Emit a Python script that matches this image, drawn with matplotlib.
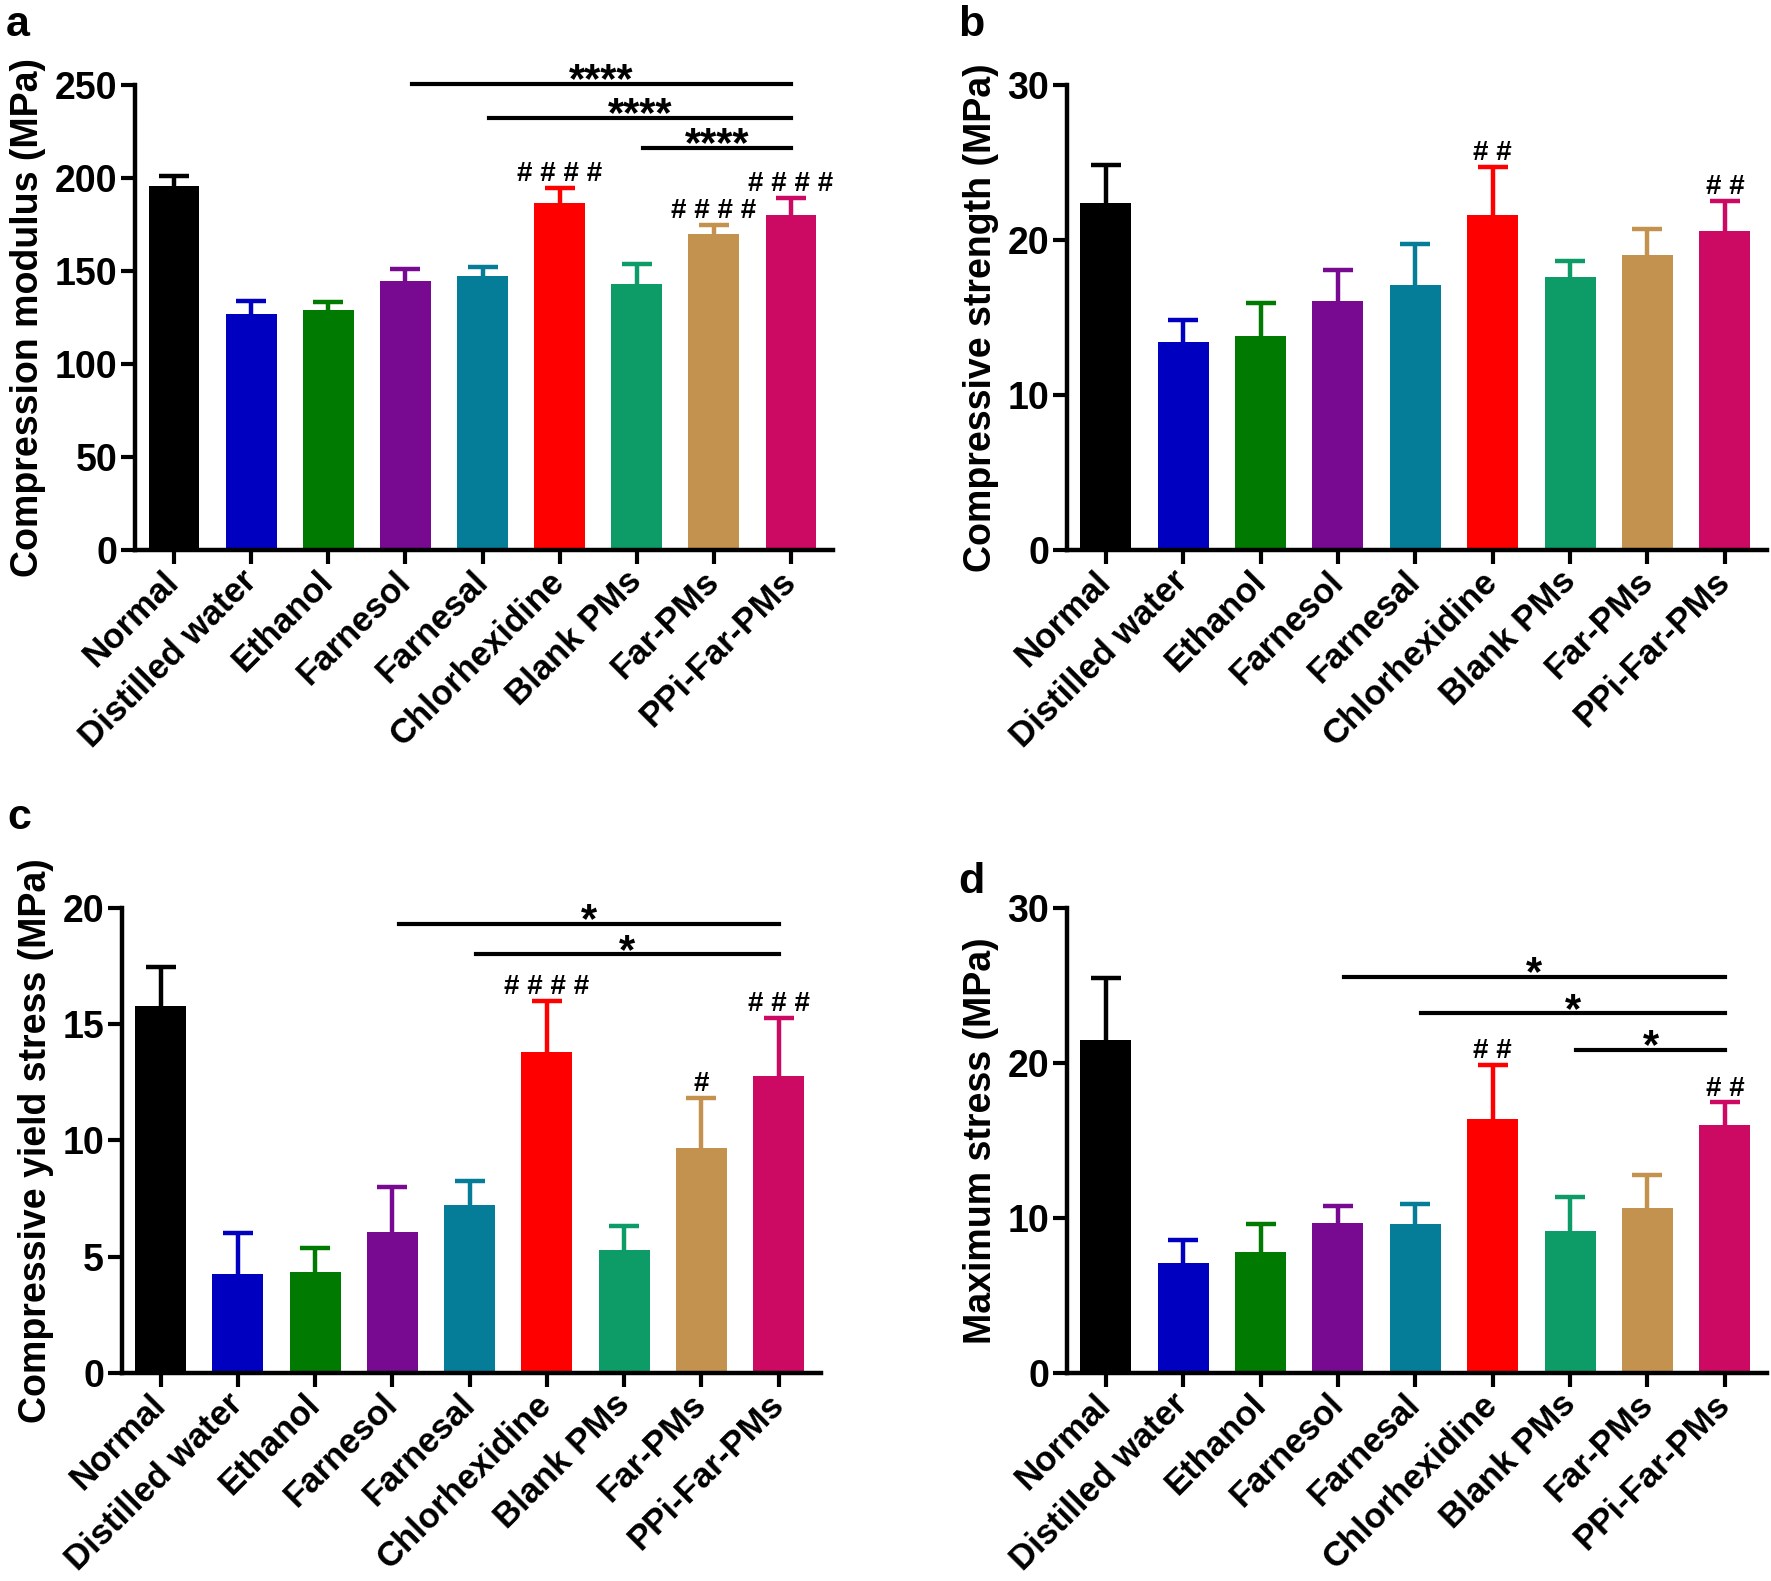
import numpy as np
import matplotlib
matplotlib.use("Agg")
import matplotlib.pyplot as plt

plt.rcParams['font.family'] = ['Liberation Sans', 'DejaVu Sans']
plt.rcParams['font.weight'] = 'bold'

groups = ['Normal', 'Distilled water', 'Ethanol', 'Farnesol', 'Farnesal',
          'Chlorhexidine', 'Blank PMs', 'Far-PMs', 'PPi-Far-PMs']
colors = ['#000000', '#0000c0', '#007a00', '#770a90', '#067d98',
          '#ff0000', '#0d9b68', '#c4924f', '#cc0a64']

# panel a - compression modulus
mod_mean = [195.5, 127, 129, 144.5, 147.5, 186.5, 143, 170, 180]
mod_err = [5.5, 7, 4, 6.5, 4.5, 8, 10.5, 4.5, 9]
mod_sig = [(3, 8, 250.3, '****'), (4, 8, 232, '****'), (6, 8, 216, '****')]
mod_hash = {5: '####', 7: '####', 8: '####'}

# panel b - compressive strength
str_mean = [22.4, 13.4, 13.8, 16.05, 17.1, 21.6, 17.6, 19.0, 20.6]
str_err = [2.4, 1.4, 2.1, 2.0, 2.6, 3.1, 1.05, 1.7, 1.9]
str_sig = []
str_hash = {5: '##', 8: '##'}

# panel c - compressive yield stress
yld_mean = [15.8, 4.26, 4.34, 6.06, 7.21, 13.8, 5.28, 9.66, 12.77]
yld_err = [1.65, 1.75, 1.05, 1.95, 1.05, 2.2, 1.05, 2.15, 2.5]
yld_sig = [(3, 8, 19.33, '*'), (4, 8, 18.0, '*')]
yld_hash = {5: '####', 7: '#', 8: '###'}

# panel d - maximum stress
max_mean = [21.5, 7.08, 7.8, 9.65, 9.62, 16.4, 9.13, 10.63, 16.0]
max_err = [3.95, 1.5, 1.8, 1.15, 1.25, 3.5, 2.2, 2.15, 1.45]
max_sig = [(3, 8, 25.54, '*'), (4, 8, 23.2, '*'), (6, 8, 20.86, '*')]
max_hash = {5: '##', 8: '##'}

panels = [
    ('a', [0.0765, 0.6521, 0.3941, 0.2943], mod_mean, mod_err, mod_sig, mod_hash,
     'Compression modulus (MPa)', [0, 50, 100, 150, 200, 250]),
    ('b', [0.6025, 0.6521, 0.3955, 0.2943], str_mean, str_err, str_sig, str_hash,
     'Compressive strength (MPa)', [0, 10, 20, 30]),
    ('c', [0.0689, 0.1316, 0.3947, 0.2941], yld_mean, yld_err, yld_sig, yld_hash,
     'Compressive yield stress (MPa)', [0, 5, 10, 15, 20]),
    ('d', [0.6025, 0.1316, 0.3955, 0.2941], max_mean, max_err, max_sig, max_hash,
     'Maximum stress (MPa)', [0, 10, 20, 30]),
]
letter_pos = {'a': (0.003, 0.997), 'b': (0.541, 0.997), 'c': (0.004, 0.495), 'd': (0.541, 0.455)}

fig = plt.figure(figsize=(17.71, 15.81), dpi=100)
x = np.arange(len(groups))

for letter, rect, mean, err, sig, hashes, ylabel, yticks in panels:
    ax = fig.add_axes(rect)
    ymax = yticks[-1]
    ax.bar(x, mean, width=0.66, color=colors, zorder=2)
    # one-sided error bars: stem plus top cap
    for xi, m, e, c in zip(x, mean, err, colors):
        ax.vlines(xi, m, m + e, color=c, lw=3.2, zorder=1)
        ax.plot(xi, m + e, marker='_', markersize=22, mew=3.2, color=c, zorder=1)
    for i, h in hashes.items():
        ax.annotate(' '.join(h), (x[i], mean[i] + err[i]), xytext=(0, 5),
                    textcoords='offset points', ha='center', va='baseline',
                    fontsize=20, fontweight='bold')
    for i0, i1, yv, s in sig:
        x0 = x[i0] + 0.08
        ax.plot([x0, x[i1]], [yv, yv], color='black', lw=3, clip_on=False)
        ax.annotate(s, ((x0 + x[i1]) / 2, yv), xytext=(0, -6),
                    textcoords='offset points', ha='center', va='baseline',
                    fontsize=30, fontweight='bold', annotation_clip=False)
    ax.set_xlim(-0.5, 8.55)
    ax.set_ylim(0, ymax)
    ax.set_yticks(yticks)
    ax.set_xticks(x)
    ax.set_xticklabels(groups, rotation=45, ha='right', va='center',
                       rotation_mode='anchor', fontsize=25, fontweight='bold')
    ax.tick_params(axis='y', length=10, width=3, labelsize=27, pad=3)
    ax.tick_params(axis='x', length=10, width=3, pad=9)
    for lab in ax.get_yticklabels():
        lab.set_fontweight('bold')
    for sp in ['top', 'right']:
        ax.spines[sp].set_visible(False)
    for sp in ['left', 'bottom']:
        ax.spines[sp].set_linewidth(3.2)
    ax.set_ylabel(ylabel, fontsize=27, fontweight='bold', labelpad=6)
    fig.text(letter_pos[letter][0], letter_pos[letter][1], letter, fontsize=31,
             fontweight='bold', va='top', ha='left')

fig.savefig('out.png', dpi=100)
